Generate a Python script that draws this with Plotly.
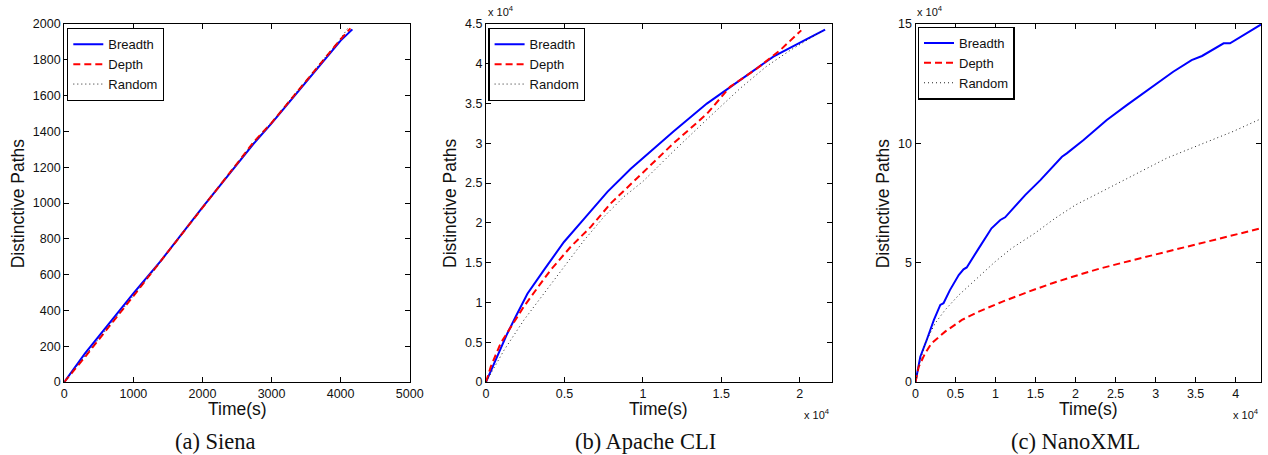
import plotly.graph_objects as go

# ---------------- data ----------------
# (a) Siena
siena_breadth_x = [0, 300, 1000, 1388, 2000, 2739, 3000, 4000, 4170]
siena_breadth_y = [0, 160, 495, 672, 976, 1330, 1445, 1907, 1970]
siena_depth_x = [0, 300, 1000, 1388, 2000, 2600, 2739, 3000, 4000, 4142]
siena_depth_y = [0, 140, 480, 670, 970, 1270, 1340, 1448, 1915, 1976]
siena_random_x = [0, 300, 1000, 1400, 2000, 2739, 3000, 4000, 4120]
siena_random_y = [0, 145, 485, 675, 975, 1338, 1450, 1918, 1985]

# (b) Apache CLI  (x and y in units of 1e4, as printed on the axes)
cli_breadth_x = [0, 0.072, 0.136, 0.189, 0.264, 0.37, 0.497, 0.625, 0.774, 0.923, 1.195, 1.408, 1.62, 1.832, 2.045, 2.162]
cli_breadth_y = [0, 0.32, 0.61, 0.82, 1.11, 1.41, 1.76, 2.05, 2.39, 2.68, 3.15, 3.50, 3.80, 4.09, 4.31, 4.43]
cli_depth_x = [0, 0.03, 0.094, 0.157, 0.242, 0.349, 0.413, 0.54, 0.668, 0.795, 0.982, 1.195, 1.408, 1.556, 1.727, 1.875, 2.01]
cli_depth_y = [0, 0.19, 0.49, 0.69, 0.95, 1.24, 1.41, 1.70, 1.95, 2.245, 2.60, 3.0, 3.37, 3.71, 3.94, 4.17, 4.42]
cli_random_x = [0, 0.115, 0.242, 0.37, 0.497, 0.625, 0.753, 0.88, 1.0, 1.195, 1.408, 1.62, 1.79, 1.94, 2.15]
cli_random_y = [0, 0.40, 0.78, 1.11, 1.45, 1.78, 2.08, 2.33, 2.52, 2.90, 3.30, 3.69, 3.97, 4.17, 4.42]

# (c) NanoXML  (x and y in units of 1e4, as printed on the axes)
nano_breadth_x = [0, 0.06, 0.14, 0.23, 0.31, 0.35, 0.43, 0.54, 0.60, 0.64, 0.79, 0.95, 1.06, 1.12, 1.37, 1.56,
                  1.83, 1.89, 2.10, 2.39, 2.64, 2.93, 3.02, 3.22, 3.45, 3.58, 3.85, 3.93, 4.317]
nano_breadth_y = [0, 1.06, 1.76, 2.60, 3.23, 3.30, 3.85, 4.48, 4.72, 4.80, 5.60, 6.44, 6.79, 6.90, 7.83, 8.46,
                  9.44, 9.58, 10.14, 10.98, 11.60, 12.30, 12.51, 13.0, 13.49, 13.66, 14.19, 14.19, 14.98]
nano_depth_x = [0, 0.04, 0.12, 0.20, 0.37, 0.58, 0.79, 1.08, 1.41, 1.70, 2.06, 2.30, 2.72, 3.14, 3.64, 3.97, 4.317]
nano_depth_y = [0, 0.64, 1.20, 1.62, 2.11, 2.60, 2.95, 3.36, 3.78, 4.13, 4.51, 4.75, 5.11, 5.46, 5.90, 6.17, 6.44]
nano_random_x = [0, 0.04, 0.12, 0.245, 0.37, 0.54, 0.745, 0.995, 1.20, 1.49, 1.74, 2.0, 2.31, 2.72, 3.14, 3.56, 3.97, 4.317]
nano_random_y = [0, 0.64, 1.62, 2.46, 3.02, 3.64, 4.27, 5.04, 5.60, 6.23, 6.85, 7.42, 7.95, 8.64, 9.38, 9.95, 10.5, 11.03]

names = ["Breadth", "Depth", "Random"]
captions = ["(a) Siena", "(b) Apache CLI", "(c) NanoXML"]

# tick labels
siena_xticks = [0, 1000, 2000, 3000, 4000, 5000]
siena_yticks = list(range(0, 2001, 200))
cli_xticks = [0, 0.5, 1, 1.5, 2]
cli_yticks = [0, 0.5, 1, 1.5, 2, 2.5, 3, 3.5, 4, 4.5]
nano_xticks = [0, 0.5, 1, 1.5, 2, 2.5, 3, 3.5, 4]
nano_yticks = [0, 5, 10, 15]

# ---------------- style ----------------
styles = {
    "Breadth": dict(color="#0000ff", width=2, dash="solid"),
    "Depth": dict(color="#ff0000", width=2, dash="7px,4px"),
    "Random": dict(color="#222222", width=1, dash="1px,3px"),
}

fig = go.Figure()
panels = [
    ("", [(siena_breadth_x, siena_breadth_y), (siena_depth_x, siena_depth_y), (siena_random_x, siena_random_y)]),
    ("2", [(cli_breadth_x, cli_breadth_y), (cli_depth_x, cli_depth_y), (cli_random_x, cli_random_y)]),
    ("3", [(nano_breadth_x, nano_breadth_y), (nano_depth_x, nano_depth_y), (nano_random_x, nano_random_y)]),
]
legend_ids = ["legend", "legend2", "legend3"]
for pi, (suf, series) in enumerate(panels):
    for name, (x, y) in zip(names, series):
        fig.add_trace(go.Scatter(
            x=x, y=y, mode="lines", name=name,
            line=styles[name], xaxis="x" + suf, yaxis="y" + suf,
            legend=legend_ids[pi], showlegend=True,
        ))

W, H = 1268, 455


def fx(px):
    return px / W


def fy(py):
    return 1 - py / H


plot_boxes = [(64.3, 409.7), (486.0, 831.7), (915.5, 1261.0)]
top, bottom = 24.0, 382.0

tick_font = dict(family="Liberation Sans, Arial, sans-serif", size=12.5, color="#111111")
axis_common = dict(
    showline=True, linecolor="black", linewidth=1.3, mirror="ticks",
    ticks="inside", ticklen=5, tickwidth=1, tickcolor="black",
    showgrid=False, zeroline=False, automargin=False,
    tickfont=tick_font,
)

x_ranges = [[0, 5000], [0, 2.204], [0, 4.317]]
y_ranges = [[0, 2000], [0, 4.5], [0, 15]]
x_ticks = [siena_xticks, cli_xticks, nano_xticks]
y_ticks = [siena_yticks, cli_yticks, nano_yticks]

layout = dict(
    template="none",
    width=W, height=H, margin=dict(l=0, r=0, t=0, b=0, pad=0),
    paper_bgcolor="white", plot_bgcolor="white", showlegend=True,
)
for i, (x0, x1) in enumerate(plot_boxes):
    suf = "" if i == 0 else str(i + 1)
    xa = dict(axis_common, domain=[fx(x0), fx(x1)], range=x_ranges[i],
              tickvals=x_ticks[i], ticktext=[f"{v:g}" for v in x_ticks[i]], anchor="y" + suf)
    ya = dict(axis_common, domain=[fy(bottom), fy(top)], range=y_ranges[i],
              tickvals=y_ticks[i], ticktext=[f"{v:g}" for v in y_ticks[i]], anchor="x" + suf)
    layout["xaxis" + suf] = xa
    layout["yaxis" + suf] = ya

legend_pos = [(67.0, 28.0), (488.3, 28.0), (917.7, 26.7)]
for i, (lx, ly) in enumerate(legend_pos):
    layout[legend_ids[i]] = dict(
        x=fx(lx), y=fy(ly), xanchor="left", yanchor="top",
        bordercolor="black", borderwidth=1.3, bgcolor="white",
        font=dict(family="Liberation Sans, Arial, sans-serif", size=13, color="#111111"),
        tracegroupgap=0, itemwidth=30,
    )

annotations = []
label_font = dict(family="Liberation Sans, Arial, sans-serif", size=17.5, color="#111111")
cap_font = dict(family="Liberation Serif, Times New Roman, serif", size=22.5, color="#111111")
exp_font = dict(family="Liberation Sans, Arial, sans-serif", size=11, color="#111111")
ylabel_x = [18.3, 450.0, 883.3]
caption_x = [215.8, 645.8, 1075.0]
for i, (x0, x1) in enumerate(plot_boxes):
    annotations.append(dict(text="Time(s)", x=fx((x0 + x1) / 2), y=fy(409), xref="paper", yref="paper",
                            xanchor="center", yanchor="middle", showarrow=False, font=label_font))
    annotations.append(dict(text="Distinctive Paths", x=fx(ylabel_x[i]), y=fy(203), xref="paper", yref="paper",
                            xanchor="center", yanchor="middle", showarrow=False, font=label_font, textangle=-90))
    annotations.append(dict(text=captions[i], x=fx(caption_x[i]), y=fy(441), xref="paper", yref="paper",
                            xanchor="center", yanchor="middle", showarrow=False, font=cap_font))
    if i > 0:
        annotations.append(dict(text="x 10<sup>4</sup>", x=fx(x0), y=fy(20), xref="paper", yref="paper",
                                xanchor="left", yanchor="bottom", showarrow=False, font=exp_font))
        annotations.append(dict(text="x 10<sup>4</sup>", x=fx(x1), y=fy(405), xref="paper", yref="paper",
                                xanchor="right", yanchor="top", showarrow=False, font=exp_font))
layout["annotations"] = annotations

fig.update_layout(**layout)
fig.write_html(
    "out.html",
    config={"displayModeBar": False},
    post_script="document.body.style.margin='0px';document.body.style.overflow='hidden';",
)
